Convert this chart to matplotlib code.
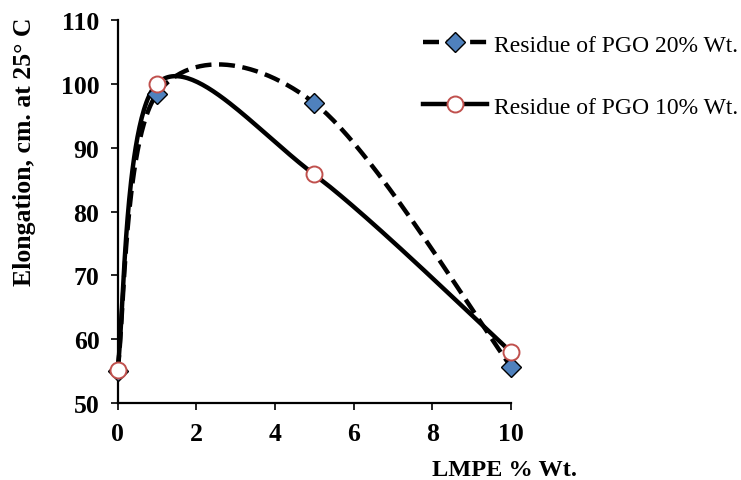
import numpy as np
import matplotlib
matplotlib.use("Agg")
import matplotlib.pyplot as plt
from matplotlib.lines import Line2D

# ---- data ----
lmpe = [0, 1, 5, 10]
pgo20 = [55.0, 98.4, 97.0, 55.7]
pgo10 = [55.2, 100.0, 85.8, 58.0]
series_labels = ["Residue of PGO 20% Wt.", "Residue of PGO 10% Wt."]
x_ticks = [0, 2, 4, 6, 8, 10]
y_ticks = [50, 60, 70, 80, 90, 100, 110]
x_label = "LMPE % Wt."
y_label = "Elongation, cm. at 25° C"

plt.rcParams['font.family'] = ['Liberation Serif', 'DejaVu Serif']


def excel_smooth(xs, ys, n=60):
    """Catmull-Rom style Bezier smoothing (like Excel's smoothed lines)."""
    P = np.column_stack([xs, ys]).astype(float)
    out = []
    m = len(P)
    for i in range(m - 1):
        p0 = P[i - 1] if i > 0 else P[i]
        p1 = P[i]
        p2 = P[i + 1]
        p3 = P[i + 2] if i + 2 < m else P[i + 1]
        c1 = p1 + (p2 - p0) / 6.0
        c2 = p2 - (p3 - p1) / 6.0
        t = np.linspace(0, 1, n)[:, None]
        seg = ((1 - t) ** 3) * p1 + 3 * ((1 - t) ** 2) * t * c1 + 3 * (1 - t) * t ** 2 * c2 + t ** 3 * p2
        out.append(seg if i == 0 else seg[1:])
    pts = np.vstack(out)
    return pts[:, 0], pts[:, 1]


fig = plt.figure(figsize=(7.41, 4.81), dpi=100)
ax = fig.add_axes([117.5 / 741, 1 - 404 / 481, (511 - 117.5) / 741, (404 - 21) / 481])

lw = 3.2
dash = (0, (3.6, 1.7))
blue = '#4F81BD'
red = '#C0504D'

sx, sy = excel_smooth(lmpe, pgo20)
ax.plot(sx, sy, color='black', lw=lw, linestyle=dash, zorder=2, clip_on=False)
sx, sy = excel_smooth(lmpe, pgo10)
ax.plot(sx, sy, color='black', lw=lw, linestyle='-', zorder=2, clip_on=False)

ax.plot(lmpe, pgo20, linestyle='none', marker='D', markersize=10.2, markerfacecolor=blue,
        markeredgecolor='black', markeredgewidth=1.0, zorder=3, clip_on=False)
ax.plot(lmpe, pgo10, linestyle='none', marker='o', markersize=11.5, markerfacecolor='white',
        markeredgecolor=red, markeredgewidth=1.4, zorder=4, clip_on=False)

ax.set_xlim(0, 10)
ax.set_ylim(50, 110)
ax.set_xticks(x_ticks)
ax.set_yticks(y_ticks)
ax.set_xticklabels([str(v) for v in x_ticks])
ax.set_yticklabels([str(v) for v in y_ticks])
for s in ['top', 'right']:
    ax.spines[s].set_visible(False)
for s in ['left', 'bottom']:
    ax.spines[s].set_linewidth(1.6)
ax.tick_params(axis='both', direction='out', length=5, width=1.2, labelsize=18.5)
ax.tick_params(axis='x', pad=9)
ax.tick_params(axis='y', pad=8)
for lab in ax.get_xticklabels() + ax.get_yticklabels():
    lab.set_fontweight('bold')

fig.text(25 / 741, 1 - 152 / 481, y_label, rotation=90, ha='center', va='center',
         fontsize=18.5, fontweight='bold')
fig.text(505 / 741, 1 - 471 / 481, x_label, ha='center', va='center',
         fontsize=17.5, fontweight='bold')

handles = [
    Line2D([], [], color='black', lw=lw, linestyle=dash, marker='D', markersize=10.2,
           markerfacecolor=blue, markeredgecolor='black', markeredgewidth=1.0),
    Line2D([], [], color='black', lw=lw, linestyle='-', marker='o', markersize=11.5,
           markerfacecolor='white', markeredgecolor=red, markeredgewidth=1.4),
]
fig.legend(handles, series_labels, loc='upper left', bbox_to_anchor=(423 / 741, 1 - 35 / 481),
           frameon=False, fontsize=17, handlelength=2.7, handletextpad=0.3,
           labelspacing=1.72, borderpad=0, borderaxespad=0)

fig.savefig('out.png', dpi=100)
